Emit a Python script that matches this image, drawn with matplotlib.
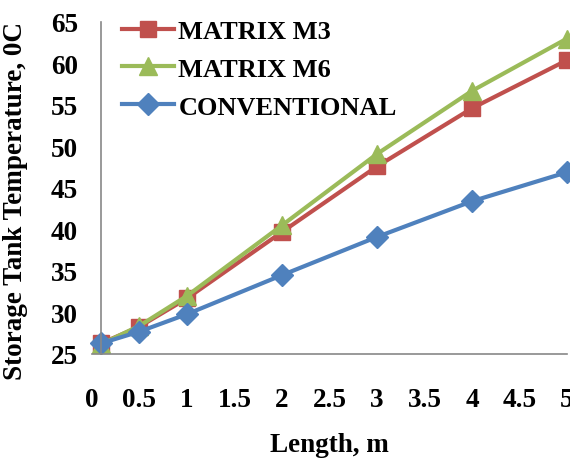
import matplotlib
matplotlib.use('Agg')
import matplotlib.pyplot as plt

plt.rcParams['font.family'] = ['Liberation Serif', 'DejaVu Serif']
plt.rcParams['font.weight'] = 'bold'

length = [0.1, 0.5, 1, 2, 3, 4, 5]
matrix_m3 = [26.3, 28.3, 31.7, 39.7, 47.6, 54.6, 60.4]
matrix_m6 = [26.2, 28.4, 32.0, 40.5, 49.1, 56.7, 63.0]
conventional = [26.3, 27.7, 29.8, 34.5, 39.1, 43.4, 46.9]

x_ticks = [0, 0.5, 1, 1.5, 2, 2.5, 3, 3.5, 4, 4.5, 5]
x_tick_labels = ['0', '0.5', '1', '1.5', '2', '2.5', '3', '3.5', '4', '4.5', '5']
y_ticks = [25, 30, 35, 40, 45, 50, 55, 60, 65]

fig = plt.figure(figsize=(5.7, 4.6), dpi=100)
ax = fig.add_axes([0.1614, 0.2283, 0.8333, 0.7217])

ax.plot(length, matrix_m3, color='#C0504D', lw=3, marker='s', ms=12,
        label='MATRIX M3', clip_on=False)
ax.plot(length, matrix_m6, color='#9BBB59', lw=3, marker='^', ms=13,
        label='MATRIX M6', clip_on=False)
ax.plot(length, conventional, color='#4F81BD', lw=3, marker='D', ms=11,
        label='CONVENTIONAL', clip_on=False)

ax.set_xlim(0, 5)
ax.set_ylim(25, 65)
ax.set_xticks(x_ticks)
ax.set_xticklabels(x_tick_labels)
ax.set_yticks(y_ticks)

ax.spines['top'].set_visible(False)
ax.spines['right'].set_visible(False)
ax.spines['left'].set_position(('data', 0.1))
for s in ['left', 'bottom']:
    ax.spines[s].set_color('#888888')
    ax.spines[s].set_linewidth(1.2)
ax.tick_params(axis='both', length=0, labelsize=19.5)
ax.tick_params(axis='y', pad=17)
ax.tick_params(axis='x', pad=24)

ax.set_xlabel('Length, m', fontsize=19.5, fontweight='bold', labelpad=14)
ax.set_ylabel('Storage Tank Temperature, 0C', fontsize=19.5, fontweight='bold')
ax.yaxis.set_label_coords(-0.135, 0.465)

ax.legend(loc='upper left', bbox_to_anchor=(0.04, 1.04), frameon=False,
          fontsize=19, handlelength=2.0, handletextpad=0.15,
          labelspacing=0.55, borderaxespad=0)

fig.savefig('out.png', dpi=100)
